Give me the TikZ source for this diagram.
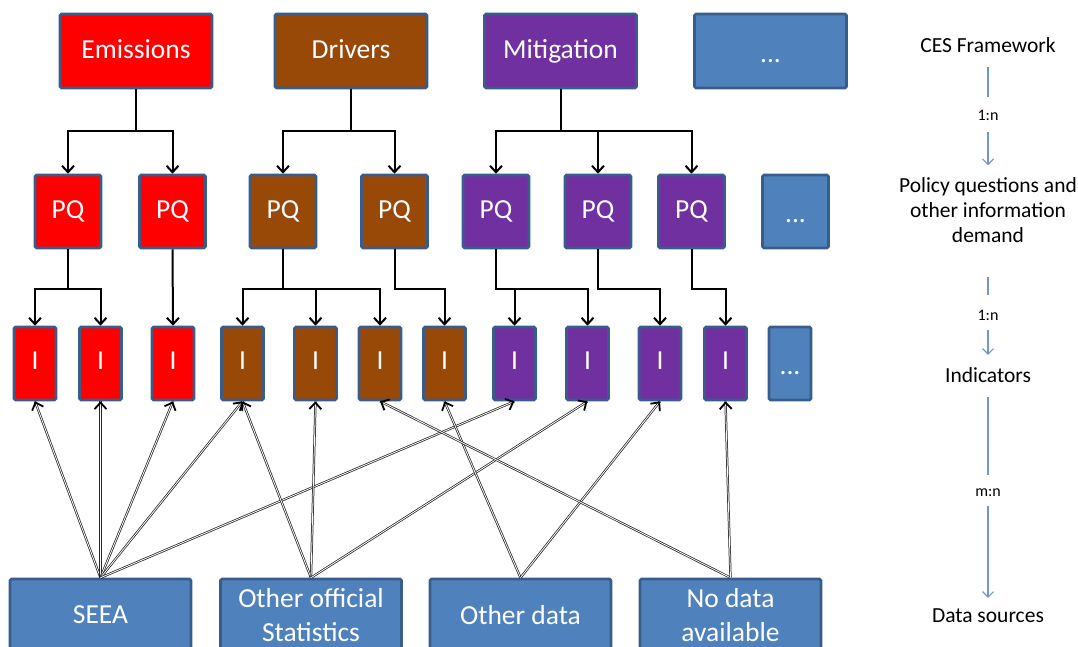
\documentclass[tikz,border=0pt]{standalone}
\usepackage{fontspec}
\setmainfont{Carlito}
\usetikzlibrary{arrows.meta,decorations.markings}
\definecolor{cred}{HTML}{FF0000}
\definecolor{cbrown}{HTML}{984807}
\definecolor{cpurple}{HTML}{7030A0}
\definecolor{cblue}{HTML}{4F81BD}
\definecolor{cborder}{HTML}{385D8A}
\definecolor{cline}{HTML}{7096CA}
\begin{document}
\begin{tikzpicture}[x=1pt,y=-1pt,
  box/.style={draw=cborder, line width=2.6pt, rounded corners=1.5pt, text=white,
    font=\fontsize{27.5}{34}\selectfont, inner sep=0pt, align=center},
  topbox/.style={box, minimum width=152pt, minimum height=74pt},
  pqbox/.style={box, minimum width=66pt, minimum height=73pt},
  ibox/.style={box, minimum width=42pt, minimum height=73pt},
  srcbox/.style={box, fill=cblue, minimum width=181pt, minimum height=72pt},
  tree/.style={draw=black, line width=2pt, -{Straight Barb[length=6.5pt,width=12pt]}},
  dsarrow/.style={draw=black!85, double=white, double distance=0.8pt, line width=0.75pt,
    postaction={decorate},
    decoration={markings, mark=at position 1 with {\pgfsetinnerlinewidth{0pt}\arrow[black, line width=1.8pt]{Straight Barb[length=6.5pt,width=12pt]}}}},
  rtext/.style={font=\fontsize{21.5}{25}\selectfont, align=center, inner sep=0pt,
    text height=15pt, text depth=5pt},
  rtextm/.style={font=\fontsize{21.5}{25}\selectfont, align=center, inner sep=0pt},
  rlab/.style={font=\fontsize{16}{18}\selectfont, inner sep=0pt,
    text height=11pt, text depth=0pt},
  rline/.style={draw=cline, line width=1.1pt},
  rarrow/.style={rline, -{Straight Barb[length=5.5pt,width=11pt]}}
]
\useasboundingbox (0,0) rectangle (1078,646);
\clip (0,0) rectangle (1078,646);

% top row
\node[topbox, fill=cred]    (em)  at (136,51)   {\vphantom{Ag}Emissions};
\node[topbox, fill=cbrown]  (dr)  at (351,51)   {\vphantom{Ag}Drivers};
\node[topbox, fill=cpurple] (mi)  at (560.5,51) {\vphantom{Ag}Mitigation};
\node[topbox, fill=cblue]   (td)  at (770.5,51) {\vphantom{Ag}\raisebox{-5pt}{...}};

% PQ row
\node[pqbox, fill=cred]    (pq1) at (68,211.5)    {\vphantom{Ag}PQ};
\node[pqbox, fill=cred]    (pq2) at (172.5,211.5) {\vphantom{Ag}PQ};
\node[pqbox, fill=cbrown]  (pq3) at (283,211.5)   {\vphantom{Ag}PQ};
\node[pqbox, fill=cbrown]  (pq4) at (394.5,211.5) {\vphantom{Ag}PQ};
\node[pqbox, fill=cpurple] (pq5) at (496,211.5)   {\vphantom{Ag}PQ};
\node[pqbox, fill=cpurple] (pq6) at (598,211.5)   {\vphantom{Ag}PQ};
\node[pqbox, fill=cpurple] (pq7) at (691.5,211.5) {\vphantom{Ag}PQ};
\node[pqbox, fill=cblue]   (pqd) at (795.5,211.5) {\vphantom{Ag}\raisebox{-5pt}{...}};

% I row
\node[ibox, fill=cred]    (i1)  at (35,363.5)    {\vphantom{Ag}I};
\node[ibox, fill=cred]    (i2)  at (100.5,363.5) {\vphantom{Ag}I};
\node[ibox, fill=cred]    (i3)  at (173,363.5)   {\vphantom{Ag}I};
\node[ibox, fill=cbrown]  (i4)  at (242.5,363.5) {\vphantom{Ag}I};
\node[ibox, fill=cbrown]  (i5)  at (315.5,363.5) {\vphantom{Ag}I};
\node[ibox, fill=cbrown]  (i6)  at (380,363.5)   {\vphantom{Ag}I};
\node[ibox, fill=cbrown]  (i7)  at (444.5,363.5) {\vphantom{Ag}I};
\node[ibox, fill=cpurple] (i8)  at (514.5,363.5) {\vphantom{Ag}I};
\node[ibox, fill=cpurple] (i9)  at (587.5,363.5) {\vphantom{Ag}I};
\node[ibox, fill=cpurple] (i10) at (660,363.5)   {\vphantom{Ag}I};
\node[ibox, fill=cpurple] (i11) at (725.5,363.5) {\vphantom{Ag}I};
\node[ibox, fill=cblue]   (id)  at (790,363.5)   {\vphantom{Ag}\raisebox{-5pt}{...}};

% data sources
\node[srcbox] (seea) at (100.5,615) {SEEA};
\node[srcbox] (oos)  at (311,615)   {Other official\\Statistics};
\node[srcbox] (od)   at (520.5,615) {Other data};
\node[srcbox] (nd)   at (730.5,615) {No data\\available};

% top -> PQ
\draw[tree] (em.south) -- ++(0,42) -| (pq1.north);
\draw[tree] (em.south) -- ++(0,42) -| (pq2.north);
\draw[tree] (dr.south) -- ++(0,42) -| (pq3.north);
\draw[tree] (dr.south) -- ++(0,42) -| (pq4.north);
\draw[tree] (mi.south) -- ++(0,42) -| (pq5.north);
\draw[tree] (mi.south) -- ++(0,42) -| (pq6.north);
\draw[tree] (mi.south) -- ++(0,42) -| (pq7.north);

% PQ -> I
\draw[tree] (pq1.south) -- ++(0,40) -| (i1.north);
\draw[tree] (pq1.south) -- ++(0,40) -| (i2.north);
\draw[tree] (pq2.south) -- (i3.north);
\draw[tree] (pq3.south) -- ++(0,40) -| (i4.north);
\draw[tree] (pq3.south) -- ++(0,40) -| (i5.north);
\draw[tree] (pq3.south) -- ++(0,40) -| (i6.north);
\draw[tree] (pq4.south) -- ++(0,40) -| (i7.north);
\draw[tree] (pq5.south) -- ++(0,40) -| (i8.north);
\draw[tree] (pq5.south) -- ++(0,40) -| (i9.north);
\draw[tree] (pq6.south) -- ++(0,40) -| (i10.north);
\draw[tree] (pq7.south) -- ++(0,40) -| (i11.north);

% data sources -> I
\draw[dsarrow] (seea.north) -- (i1.south);
\draw[dsarrow] (seea.north) -- (i2.south);
\draw[dsarrow] (seea.north) -- (i3.south);
\draw[dsarrow] (seea.north) -- (i4.south);
\draw[dsarrow] (seea.north) -- (i8.south);
\draw[dsarrow] (oos.north) -- (i4.south);
\draw[dsarrow] (oos.north) -- (i5.south);
\draw[dsarrow] (oos.north) -- (i9.south);
\draw[dsarrow] (od.north) -- (i7.south);
\draw[dsarrow] (od.north) -- (i10.south);
\draw[dsarrow] (nd.north) -- (i6.south);
\draw[dsarrow] (nd.north) -- (i11.south);

% right column
\node[rtext]  (ces) at (988,47)  {CES Framework};
\node[rlab]   (l1)  at (988,115) {1:n};
\node[rtextm] (pqt) at (988,210) {Policy questions and\\other information\\demand};
\node[rlab]   (l2)  at (988,315) {1:n};
\node[rtext]  (ind) at (988,377) {Indicators};
\node[rlab]   (l3)  at (988,491) {m:n};
\node[rtext]  (dsr) at (988,617) {Data sources};

\draw[rline]  (ces.south) -- (l1.north) [shorten <=10pt, shorten >=12.5pt];
\draw[rarrow, shorten <=11.5pt, shorten >=12pt] (l1.south) -- (pqt.north);
\draw[rline, shorten <=34pt, shorten >=14.5pt] (pqt.south) -- (l2.north);
\draw[rarrow, shorten <=9.5pt, shorten >=12pt] (l2.south) -- (ind.north);
\draw[rline, shorten <=10pt, shorten >=10.5pt] (ind.south) -- (l3.north);
\draw[rarrow, shorten <=9.5pt, shorten >=9pt] (l3.south) -- (dsr.north);
\end{tikzpicture}
\end{document}
